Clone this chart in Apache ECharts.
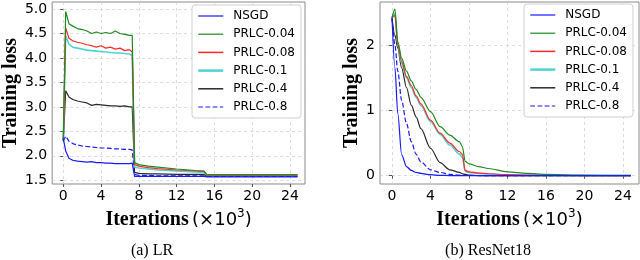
<!DOCTYPE html>
<html><head><meta charset="utf-8">
<script src="https://cdn.jsdelivr.net/npm/echarts@6/dist/echarts.min.js"></script>
<style>html,body{margin:0;padding:0;background:#fff}#c{width:640px;height:260px}</style>
</head><body><div id="c"></div>
<script>
// ---- data ----
const seriesNames = ['NSGD','PRLC-0.04','PRLC-0.08','PRLC-0.1','PRLC-0.4','PRLC-0.8'];

// (a) LR
const lrX      = [0,   0.25, 0.6, 1,   1.5, 2,   2.5, 3,   3.5, 4,   4.5, 5,   5.5, 6,   6.5, 7,   7.3, 7.55, 8,   9,   10,  12,  14,  14.9, 15.2, 17,  20,  24.8];
const lrNSGD   = [2.35,2.1, 1.95,1.91,1.89,1.88,1.87,1.88,1.86,1.86,1.85,1.85,1.84,1.84,1.84,1.84,1.85,1.58, 1.58,1.58,1.58,1.58,1.58,1.58,1.57, 1.57,1.57,1.57];
const lrP004   = [2.3, 4.95,4.7, 4.65,4.6, 4.58,4.55,4.5, 4.53,4.5, 4.52,4.5, 4.55,4.5, 4.48,4.46,4.46,1.86, 1.82,1.79,1.77,1.73,1.7, 1.69,1.61, 1.61,1.61,1.61];
const lrP008   = [2.3, 4.62,4.4, 4.35,4.32,4.3, 4.27,4.25,4.22,4.25,4.2, 4.22,4.18,4.2, 4.15,4.17,4.12,1.82, 1.79,1.76,1.74,1.71,1.69,1.68,1.61, 1.61,1.61,1.61];
const lrP01    = [2.3, 4.45,4.28,4.22,4.2, 4.18,4.16,4.15,4.14,4.13,4.12,4.11,4.1, 4.1, 4.09,4.08,4.05,1.77, 1.75,1.73,1.71,1.69,1.67,1.66,1.61, 1.61,1.61,1.61];
const lrP04    = [2.3, 3.33,3.2, 3.15,3.12,3.1, 3.08,3.03,3.05,3.04,3.03,3.02,3.02,3.01,3.02,3.0, 3.0, 1.66, 1.64,1.63,1.63,1.62,1.62,1.62,1.59, 1.59,1.59,1.59];
const lrP08    = [2.3, 2.4, 2.3, 2.25,2.22,2.2, 2.19,2.18,2.17,2.16,2.16,2.15,2.14,2.14,2.13,2.13,2.12,1.62, 1.6, 1.6, 1.59,1.59,1.59,1.59,1.58, 1.58,1.58,1.58];
const lrYTicks = [1.5,2.0,2.5,3.0,3.5,4.0,4.5,5.0];
const xTicks   = [0,4,8,12,16,20,24];

// (b) ResNet18
const rnX      = [0,   0.3, 0.6, 1,   1.5, 2,   2.5, 3,   4,    5,    6,    7,    7.3,  7.6,  8,    9,    10,   12,   14,   16,   20,    24.8];
const rnNSGD   = [2.42,1.65,0.95,0.32,0.14,0.08,0.05,0.035,0.015,0.005,0.002,0.001,0.001,0.001,0.001,0.001,0.001,0.001,0.001,0.001,0.001,0.001];
const rnP004   = [2.42,2.55,2.05,1.8, 1.6, 1.45,1.32,1.2, 0.98, 0.75, 0.62, 0.52, 0.45, 0.22, 0.18, 0.14, 0.11, 0.06, 0.035,0.02, 0.008, 0.005];
const rnP008   = [2.42,2.45,2.0, 1.75,1.52,1.38,1.22,1.1, 0.85, 0.65, 0.5,  0.37, 0.33, 0.08, 0.06, 0.04, 0.03, 0.015,0.01, 0.005,0.002, 0.001];
const rnP01    = [2.42,2.48,2.0, 1.72,1.5, 1.35,1.2, 1.07,0.83, 0.63, 0.47, 0.33, 0.28, 0.07, 0.05, 0.035,0.025,0.012,0.008,0.004,0.002, 0.001];
const rnP04    = [2.4, 2.15,1.95,1.65,1.35,1.08,0.9, 0.72,0.42, 0.2,  0.09, 0.05, 0.03, 0.02, 0.01, 0.003,0.002,0.001,0.001,0.001,0.001, 0.001];
const rnP08    = [2.42,2.0, 1.6, 1.15,0.8, 0.52,0.33,0.21,0.09, 0.05, 0.02, 0.01, 0.008,0.006,0.004,0.002,0.001,0.001,0.001,0.001,0.001, 0.001];
const rnYTicks = [0,1,2];

// ---- styles ----
const colors = ['#1a1aff','#1f8a1f','#ff2a2a','#4fd3d3','#2a2a2a','#1a1aff'];
const widths = [1.2,1.2,1.2,1.6,1.2,1.2];
const legWidths = [1.2,1.2,1.5,2.5,1.5,1.2];
const types  = ['solid','solid','solid','solid','solid','dashed'];

function pair(xs, ys){ return xs.map((x,i)=>[x, ys[i]]); }
const lrData = [lrNSGD,lrP004,lrP008,lrP01,lrP04,lrP08];
const rnData = [rnNSGD,rnP004,rnP008,rnP01,rnP04,rnP08];

const tickFont = {fontFamily:'DejaVu Sans', fontSize:14, color:'#000'};
const splitLine = {show:true, lineStyle:{type:[3,3], color:'#d4d4d4', width:0.8}};

function xAxis(gi, min, max){
  return {type:'value', gridIndex:gi, min:min, max:max,
    axisLine:{show:false},
    axisTick:{show:true, customValues:xTicks, length:3, lineStyle:{color:'#555'}},
    axisLabel:Object.assign({customValues:xTicks, margin:5}, tickFont),
    splitLine:splitLine,
    name:'{b|Iterations} {m|(×10}{s|3}{m|)}', nameLocation:'middle', nameGap:21,
    nameTextStyle:{rich:{
      b:{fontFamily:'Liberation Serif', fontWeight:'bold', fontSize:20, color:'#000'},
      m:{fontFamily:'DejaVu Sans', fontSize:18, color:'#000'},
      s:{fontFamily:'DejaVu Sans', fontSize:12, color:'#000', padding:[0,0,12,0]}
    }}};
}
function yAxis(gi, min, max, ticks, fmt, gap){
  return {type:'value', gridIndex:gi, min:min, max:max,
    axisLine:{show:false},
    axisTick:{show:true, customValues:ticks, length:3, lineStyle:{color:'#555'}},
    axisLabel:Object.assign({customValues:ticks, margin:5, formatter:fmt}, tickFont),
    splitLine:splitLine,
    name:'Training loss', nameLocation:'middle', nameGap:gap,
    nameTextStyle:{fontFamily:'Liberation Serif', fontWeight:'bold', fontSize:20, color:'#000'}};
}

const series = [];
seriesNames.forEach((n,i)=>{
  series.push({name:n, type:'line', xAxisIndex:0, yAxisIndex:0, data:pair(lrX, lrData[i]),
    symbol:'none', color:colors[i], lineStyle:{width:widths[i], type:types[i], color:colors[i]}, z:10-i, animation:false});
});
seriesNames.forEach((n,i)=>{
  series.push({name:n, type:'line', xAxisIndex:1, yAxisIndex:1, data:pair(rnX, rnData[i]),
    symbol:'none', smooth:0.3, smoothMonotone:'x', color:colors[i], lineStyle:{width:widths[i], type:types[i], color:colors[i]}, z:10-i, animation:false});
});

function legend(left, top){
  return {show:true, orient:'vertical', left:left, top:top,
    data:seriesNames.map((n,i)=>({name:n, lineStyle:{width:legWidths[i], type:types[i], color:colors[i]}, itemStyle:{opacity:0}})),
    itemWidth:25, itemHeight:12, itemGap:6.2, padding:[5,6,5,5],
    itemStyle:{opacity:0},
    backgroundColor:'#fff', borderColor:'#d0d0d0', borderWidth:1, borderRadius:3,
    textStyle:{fontFamily:'DejaVu Sans', fontSize:12, color:'#000', padding:[0,0,0,5]},
    selectedMode:false};
}

const chart = echarts.init(document.getElementById('c'), null, {renderer:'canvas'});
chart.setOption({
  animation:false,
  grid:[
    {left:48, top:2, width:257, height:182, show:true, borderColor:'#8a8a8a', borderWidth:1, backgroundColor:'transparent'},
    {left:380, top:2, width:259, height:182, show:true, borderColor:'#8a8a8a', borderWidth:1, backgroundColor:'transparent'}
  ],
  xAxis:[xAxis(0,-1.18,25.6), xAxis(1,-1.25,25.66)],
  yAxis:[yAxis(0,1.424,5.143,lrYTicks,v=>v.toFixed(1),25), yAxis(1,-0.127,2.658,rnYTicks,v=>String(v),11)],
  legend:[legend(192,5), legend(524,4)],
  series:series,
  graphic:[
    {type:'text', x:152, y:251, style:{text:'(a) LR', font:'16px "Liberation Serif"', fill:'#000', textAlign:'center', textVerticalAlign:'middle'}},
    {type:'text', x:488, y:251, style:{text:'(b) ResNet18', font:'16px "Liberation Serif"', fill:'#000', textAlign:'center', textVerticalAlign:'middle'}}
  ]
});
</script></body></html>
